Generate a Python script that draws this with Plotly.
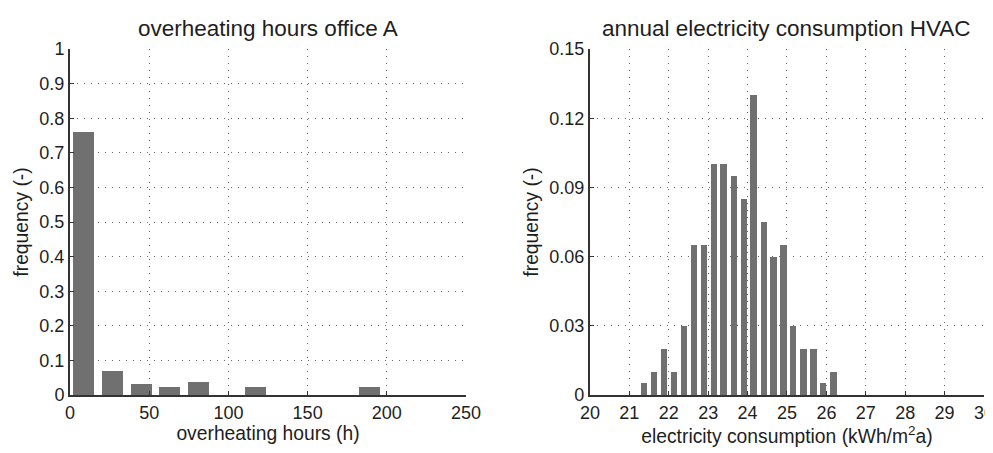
import plotly.graph_objects as go
from plotly.subplots import make_subplots

# ---- data: overheating hours office A ----
oh_centers = [8.6, 27.1, 45.0, 63.0, 81.1, 117.1, 189.1]
oh_freq = [0.76, 0.068, 0.033, 0.022, 0.037, 0.022, 0.022]

# ---- data: annual electricity consumption HVAC ----
el_centers = [21.37, 21.62, 21.88, 22.13, 22.38, 22.64, 22.89, 23.14, 23.39, 23.65,
              23.90, 24.15, 24.41, 24.66, 24.91, 25.16, 25.42, 25.67, 25.92, 26.18]
el_freq = [0.005, 0.01, 0.02, 0.01, 0.03, 0.065, 0.065, 0.10, 0.10, 0.095,
           0.085, 0.13, 0.075, 0.06, 0.065, 0.03, 0.02, 0.02, 0.005, 0.01]

left_xticks = [0, 50, 100, 150, 200, 250]
left_yticks = [0, 0.1, 0.2, 0.3, 0.4, 0.5, 0.6, 0.7, 0.8, 0.9, 1]
left_yticktext = ["0", "0.1", "0.2", "0.3", "0.4", "0.5", "0.6", "0.7", "0.8", "0.9", "1"]
right_xticks = list(range(20, 31))
right_yticks = [0, 0.03, 0.06, 0.09, 0.12, 0.15]
right_yticktext = ["0", "0.03", "0.06", "0.09", "0.12", "0.15"]

BAR = "#707070"
TXT = "#1e1e1e"
GRID = "#666666"
FONT = "Liberation Sans, Arial, Helvetica, sans-serif"

fig = make_subplots(rows=1, cols=2)
fig.add_trace(go.Bar(x=oh_centers, y=oh_freq, width=13.3, marker=dict(color=BAR, line=dict(width=0)),
                     showlegend=False), row=1, col=1)
fig.add_trace(go.Bar(x=el_centers, y=el_freq, width=0.16, marker=dict(color=BAR, line=dict(width=0)),
                     showlegend=False), row=1, col=2)

axis_common = dict(
    showgrid=True, gridcolor=GRID, griddash="1.2px,5.8px", gridwidth=1.2,
    showline=True, linecolor="#333333", linewidth=2,
    ticks="inside", ticklen=4, tickcolor="#333333", tickwidth=1.2,
    tickfont=dict(size=18, color=TXT, family=FONT),
    zeroline=False, mirror=False, automargin=False,
    ticklabeloverflow="allow",
)

fig.update_xaxes(axis_common)
fig.update_yaxes(axis_common)

fig.update_xaxes(range=[0, 250], tickvals=left_xticks, domain=[0, 0.4333],
                 title=dict(text="overheating hours (h)", font=dict(size=19.3, color=TXT, family=FONT), standoff=2),
                 row=1, col=1)
fig.update_yaxes(range=[0, 1], tickvals=left_yticks, ticktext=left_yticktext,
                 domain=[0, 1],
                 title=dict(text="frequency (-)", font=dict(size=19.3, color=TXT, family=FONT), standoff=6),
                 row=1, col=1)
fig.update_xaxes(range=[20, 30], tickvals=right_xticks, domain=[0.5689, 1.0],
                 title=dict(text="electricity consumption (kWh/m<sup>2</sup>a)", font=dict(size=19.3, color=TXT, family=FONT), standoff=2),
                 row=1, col=2)
fig.update_yaxes(range=[0, 0.15], tickvals=right_yticks, ticktext=right_yticktext,
                 domain=[0, 1],
                 title=dict(text="frequency (-)", font=dict(size=19.3, color=TXT, family=FONT), standoff=6),
                 row=1, col=2)

# page body adds an 8px offset, so the figure is 8px smaller and margins shifted
fig.update_layout(
    width=985, height=445,
    margin=dict(l=62, r=9, t=41, b=58),
    paper_bgcolor="white", plot_bgcolor="white",
    font=dict(family=FONT, color=TXT),
    bargap=0,
    annotations=[
        dict(text="overheating hours office A", x=0.4333 / 2, y=1.0, xref="paper", yref="paper",
             yshift=21, xanchor="center", yanchor="middle", showarrow=False,
             font=dict(size=22.5, color=TXT, family=FONT)),
        dict(text="annual electricity consumption HVAC", x=(0.5689 + 1.0) / 2, y=1.0, xref="paper", yref="paper",
             yshift=21, xanchor="center", yanchor="middle", showarrow=False,
             font=dict(size=22.5, color=TXT, family=FONT)),
    ],
)

fig.write_html("out.html")
